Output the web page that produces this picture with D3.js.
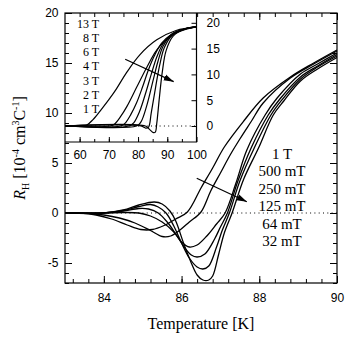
<!DOCTYPE html>
<html>
<head>
<meta charset="utf-8">
<script src="https://cdn.jsdelivr.net/npm/d3@7"></script>
<style>
  body { margin: 0; background: #fff; }
  .tick text { font-family: "Liberation Sans", Arial, sans-serif; font-size: 12px; fill: #000; }
  .serif { font-family: "Liberation Serif", "Times New Roman", serif; fill: #000; }
</style>
</head>
<body>
<svg width="354" height="358"></svg>
<script>
// main panel: Hall coefficient near Tc for low fields
var mainFields = ["1 T", "500 mT", "250 mT", "125 mT", "64 mT", "32 mT"];
var rh1T = [[83,0],[83.4,-0.02],[83.8,-0.2],[84.2,-0.6],[84.6,-1.2],[84.95,-1.65],[85.25,-1.65],[85.55,-1.25],[85.85,-0.6],[86.15,0.1],[86.5,2.5],[86.8,4.5],[87.1,6.6],[87.6,9.2],[88.1,11.5],[88.8,13.6],[89.4,15.0],[90,16.3]];
var rh500 = [[83,0],[83.6,-0.05],[84.0,-0.2],[84.4,-0.5],[84.8,-1.0],[85.2,-1.75],[85.5,-2.35],[85.72,-2.3],[85.96,-1.7],[86.2,-0.9],[86.5,0.1],[86.75,2.2],[87.0,4.0],[87.25,5.8],[87.5,7.4],[87.8,9.2],[88.1,11.0],[88.8,13.5],[89.4,14.9],[90,16.2]];
var rh250 = [[83,0],[84,0],[84.5,0.05],[84.9,0],[85.2,-0.3],[85.5,-0.9],[85.8,-1.9],[86.0,-2.9],[86.2,-3.4],[86.4,-3.2],[86.65,-2.3],[86.9,-1.1],[87.12,0],[87.4,3.0],[87.68,6.3],[88.15,9.8],[88.46,11.5],[89.06,13.9],[89.5,14.9],[90,16.0]];
var rh125 = [[83,0],[84,0.02],[84.5,0.2],[84.9,0.45],[85.15,0.4],[85.4,0],[85.65,-1.0],[85.85,-2.1],[86.05,-3.3],[86.25,-4.2],[86.4,-4.4],[86.6,-4.1],[86.85,-2.6],[87.0,-1.4],[87.18,0],[87.45,3.2],[87.79,6.5],[88.23,9.8],[88.53,11.4],[89.06,13.6],[89.5,14.7],[90,15.85]];
var rh64 = [[83,0],[84,0.02],[84.5,0.25],[84.9,0.65],[85.2,0.85],[85.4,0.6],[85.6,0],[85.8,-1.3],[86.0,-3.0],[86.2,-4.5],[86.4,-5.4],[86.55,-5.6],[86.7,-5.3],[86.9,-3.4],[87.05,-1.7],[87.23,0],[87.5,3.2],[87.87,6.5],[88.3,9.8],[88.58,11.3],[89.06,13.4],[89.5,14.6],[90,15.7]];
var rh32 = [[83,0],[84,0.02],[84.5,0.3],[84.9,0.8],[85.3,1.1],[85.5,0.9],[85.7,0.2],[85.85,-0.8],[86.05,-3.0],[86.25,-5.0],[86.4,-6.2],[86.55,-6.7],[86.7,-6.7],[86.8,-6.3],[86.95,-4.2],[87.1,-2.0],[87.3,0],[87.6,3.4],[87.98,6.5],[88.36,9.8],[88.63,11.2],[89.06,13.2],[89.5,14.4],[90,15.55]];
var mainSeries = [rh1T, rh500, rh250, rh125, rh64, rh32];
var mainArrow = [[86.39,3.47],[87.68,1.13]];

// inset: high fields, wide temperature range
var insetFields = ["13 T", "8 T", "6 T", "4 T", "3 T", "2 T", "1 T"];
var ins13 = [[55,0],[61,0],[62.5,0.2],[64.5,1.2],[67,2.9],[70,5.1],[72.6,7.2],[76,10.3],[80.6,13.8],[86.4,16.7],[93,18.5],[100,19.2]];
var ins8 = [[55,0],[70.5,0],[72,0.4],[74,1.8],[76.2,3.8],[79.6,7.6],[83.1,11.5],[86.5,14.8],[91.1,17.4],[95.7,18.6],[100,19.2]];
var ins6 = [[55,0],[74,0],[75.5,0.5],[77.5,2.2],[79.5,4.5],[81.5,7.5],[83.5,10.8],[85.5,13.5],[88,16.0],[91.5,17.8],[96,18.8],[100,19.2]];
var ins4 = [[55,0],[77,0],[78.5,0.6],[80.5,2.8],[82.5,6.2],[84.5,10.0],[86.5,13.5],[88.5,15.9],[91.5,17.8],[96,18.8],[100,19.2]];
var ins3 = [[55,0],[79.5,0],[81,0.8],[83,4.0],[85,8.5],[86.8,12.5],[88.6,15.5],[91.5,17.7],[96,18.8],[100,19.2]];
var ins2 = [[55,0],[81,0],[82.6,-0.4],[83.6,-0.2],[84.5,2.5],[86,7.5],[87.4,11.8],[89,15.2],[91.7,17.6],[96,18.8],[100,19.2]];
var ins1 = [[55,0],[82.5,0],[84,-0.7],[85.3,-1.3],[85.9,-1.2],[86.4,0.5],[87.3,5.5],[88.3,10.5],[89.6,14.6],[92,17.4],[96,18.8],[100,19.2]];
var insetSeries = [ins13, ins8, ins6, ins4, ins3, ins2, ins1];
var insetArrow = [[75.6,12.95],[92.2,8.6]];

var mainXTicks = [84, 86, 88, 90];
var mainYTicks = [-5, 0, 5, 10, 15, 20];
var insetXTicks = [60, 70, 80, 90, 100];
var insetYTicks = [0, 5, 10, 15, 20];

var svg = d3.select("svg");
var m = {left: 65, right: 337, top: 13, bottom: 283};
var ins = {left: 65, right: 196.5, top: 13, bottom: 142};

var x = d3.scaleLinear().domain([83, 90]).range([m.left, m.right]);
var y = d3.scaleLinear().domain([-7, 20]).range([m.bottom, m.top]);
var x2 = d3.scaleLinear().domain([55, 100]).range([ins.left, ins.right]);
var y2 = d3.scaleLinear().domain([-3.1, 21.9]).range([ins.bottom, ins.top]);

svg.append("defs").append("marker")
    .attr("id", "head")
    .attr("markerUnits", "userSpaceOnUse")
    .attr("markerWidth", 11).attr("markerHeight", 8)
    .attr("refX", 10).attr("refY", 4)
    .attr("orient", "auto")
  .append("path")
    .attr("d", "M0,0.8 L10,4 L0,7.2 Z")
    .attr("fill", "#000");

function ticks(g, axisFn, scale, values, size) {
  g.call(axisFn(scale).tickValues(values).tickSize(size).tickFormat(""));
  g.select(".domain").remove();
  g.selectAll("line").attr("stroke", "#000");
}
function labels(g, axisFn, scale, values, pad) {
  g.call(axisFn(scale).tickValues(values).tickSize(0).tickPadding(pad).tickFormat(function(d) { return String(d); }));
  g.select(".domain").remove();
  g.attr("font-family", null).attr("font-size", null);
}

var minorX = d3.range(208, 226).map(function(k) { return k * 0.4; });
var minorY = d3.range(-7, 21);

// ---- main panel
svg.append("line")
    .attr("x1", m.left).attr("x2", m.right)
    .attr("y1", y(0)).attr("y2", y(0))
    .attr("stroke", "#000").attr("stroke-width", 1)
    .attr("stroke-dasharray", "1,3.3");

var line = d3.line()
    .x(function(d) { return x(d[0]); })
    .y(function(d) { return y(d[1]); })
    .curve(d3.curveCatmullRom.alpha(0.5));

svg.append("g").selectAll("path")
    .data(mainSeries)
  .enter().append("path")
    .attr("d", line)
    .attr("fill", "none")
    .attr("stroke", "#000")
    .attr("stroke-width", 1.3);

svg.append("line")
    .attr("x1", x(mainArrow[0][0])).attr("y1", y(mainArrow[0][1]))
    .attr("x2", x(mainArrow[1][0])).attr("y2", y(mainArrow[1][1]))
    .attr("stroke", "#000").attr("stroke-width", 1.2)
    .attr("marker-end", "url(#head)");

svg.append("g").selectAll("text")
    .data(mainFields)
  .enter().append("text")
    .attr("class", "serif")
    .attr("x", 282)
    .attr("y", function(d, i) { return 159 + i * 17.4; })
    .attr("text-anchor", "middle")
    .attr("font-size", 15)
    .text(function(d) { return d; });

var gx = svg.append("g").attr("transform", "translate(0," + m.bottom + ")");
ticks(gx.append("g"), d3.axisBottom, x, minorX, -4);
ticks(gx.append("g"), d3.axisBottom, x, mainXTicks, -7);
labels(gx.append("g"), d3.axisBottom, x, mainXTicks, 10);

var gt = svg.append("g").attr("transform", "translate(0," + m.top + ")");
ticks(gt.append("g"), d3.axisTop, x, minorX, -4);
ticks(gt.append("g"), d3.axisTop, x, mainXTicks, -7);

var gr = svg.append("g").attr("transform", "translate(" + m.right + ",0)");
ticks(gr.append("g"), d3.axisRight, y, minorY, -4);
ticks(gr.append("g"), d3.axisRight, y, mainYTicks, -7);

// ---- inset
svg.append("rect")
    .attr("x", ins.left).attr("y", ins.top)
    .attr("width", ins.right - ins.left).attr("height", ins.bottom - ins.top)
    .attr("fill", "#fff");

svg.append("line")
    .attr("x1", ins.left).attr("x2", ins.right)
    .attr("y1", y2(0)).attr("y2", y2(0))
    .attr("stroke", "#000").attr("stroke-width", 1)
    .attr("stroke-dasharray", "1,3.3");

var line2 = d3.line()
    .x(function(d) { return x2(d[0]); })
    .y(function(d) { return y2(d[1]); })
    .curve(d3.curveCatmullRom.alpha(0.5));

svg.append("g").selectAll("path")
    .data(insetSeries)
  .enter().append("path")
    .attr("d", line2)
    .attr("fill", "none")
    .attr("stroke", "#000")
    .attr("stroke-width", 1.2);

svg.append("line")
    .attr("x1", x2(insetArrow[0][0])).attr("y1", y2(insetArrow[0][1]))
    .attr("x2", x2(insetArrow[1][0])).attr("y2", y2(insetArrow[1][1]))
    .attr("stroke", "#000").attr("stroke-width", 1.2)
    .attr("marker-end", "url(#head)");

svg.append("g").selectAll("text")
    .data(insetFields)
  .enter().append("text")
    .attr("class", "serif")
    .attr("x", 99)
    .attr("y", function(d, i) { return 28.3 + i * 14.05; })
    .attr("text-anchor", "end")
    .attr("font-size", 12)
    .text(function(d) { return d; });

var ib = svg.append("g").attr("transform", "translate(0," + ins.bottom + ")");
ticks(ib.append("g"), d3.axisBottom, x2, d3.range(60, 100, 5), -3);
ticks(ib.append("g"), d3.axisBottom, x2, insetXTicks, -5);
labels(ib.append("g"), d3.axisBottom, x2, insetXTicks, 8.5);

var it = svg.append("g").attr("transform", "translate(0," + ins.top + ")");
ticks(it.append("g"), d3.axisTop, x2, d3.range(60, 100, 5), -4);

var ir = svg.append("g").attr("transform", "translate(" + ins.right + ",0)");
ticks(ir.append("g"), d3.axisRight, y2, insetYTicks, -5);
labels(ir.append("g"), d3.axisRight, y2, insetYTicks, 10);

svg.append("path")
    .attr("d", "M" + ins.left + "," + ins.bottom + "H" + ins.right + "V" + ins.top)
    .attr("fill", "none").attr("stroke", "#000").attr("stroke-width", 1.2);

// ---- main left axis drawn last so its ticks show through the inset
var gl = svg.append("g").attr("transform", "translate(" + m.left + ",0)");
ticks(gl.append("g"), d3.axisLeft, y, minorY, -4);
ticks(gl.append("g"), d3.axisLeft, y, mainYTicks, -7);
labels(gl.append("g"), d3.axisLeft, y, mainYTicks, 6.5);

svg.append("rect")
    .attr("x", m.left).attr("y", m.top)
    .attr("width", m.right - m.left).attr("height", m.bottom - m.top)
    .attr("fill", "none").attr("stroke", "#000").attr("stroke-width", 1.2);

// ---- titles
svg.append("text")
    .attr("class", "serif")
    .attr("x", (m.left + m.right) / 2).attr("y", 329)
    .attr("text-anchor", "middle")
    .attr("font-size", 16)
    .text("Temperature [K]");

var yt = svg.append("text")
    .attr("class", "serif")
    .attr("transform", "translate(25," + ((m.top + m.bottom) / 2) + ") rotate(-90)")
    .attr("text-anchor", "middle")
    .attr("font-size", 16);
yt.append("tspan").attr("font-style", "italic").text("R");
yt.append("tspan").attr("font-size", 10).attr("dy", 4).text("H");
yt.append("tspan").attr("dy", -4).text(" [10");
yt.append("tspan").attr("font-size", 10).attr("dy", -6).text("-4");
yt.append("tspan").attr("dy", 6).text(" cm");
yt.append("tspan").attr("font-size", 10).attr("dy", -6).text("3");
yt.append("tspan").attr("dy", 6).text("C");
yt.append("tspan").attr("font-size", 10).attr("dy", -6).text("-1");
yt.append("tspan").attr("dy", 6).text("]");
</script>
</body>
</html>
